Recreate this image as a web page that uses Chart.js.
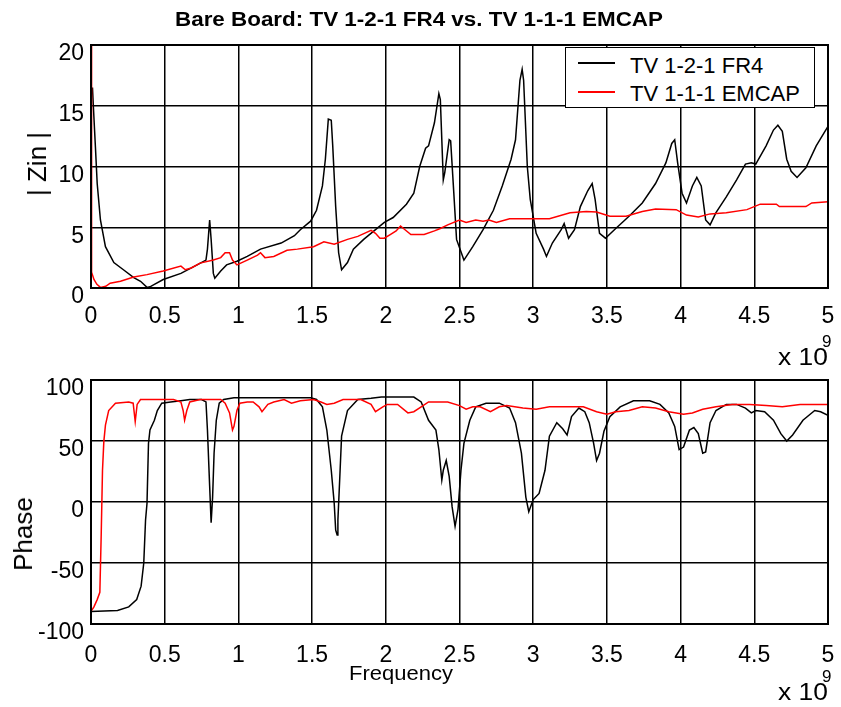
<!DOCTYPE html>
<html><head><meta charset="utf-8">
<script src="https://cdn.jsdelivr.net/npm/chart.js@4.4.1/dist/chart.umd.min.js"></script>
<style>
html,body{margin:0;padding:0;background:#fff;}
#page{position:relative;width:841px;height:707px;overflow:hidden;font-family:"Liberation Sans",Arial,sans-serif;color:#000;}
.t{position:absolute;line-height:1;white-space:nowrap;z-index:3;}
canvas{position:absolute;left:0;}
#legend{position:absolute;left:565px;top:47px;width:250px;height:61px;box-sizing:border-box;border:1px solid #000;background:#fff;z-index:2;}
.ls{position:absolute;left:578px;width:37px;height:1.5px;z-index:3;}
</style></head><body>
<div id="page">
<canvas id="c1" width="841" height="370" style="top:0px"></canvas>
<canvas id="c2" width="841" height="337" style="top:370px"></canvas>

<div class="t" style="left:419px;top:9px;font-size:20px;font-weight:bold;transform:translateX(-50%) scaleX(1.12);">Bare Board: TV 1-2-1 FR4 vs. TV 1-1-1 EMCAP</div>

<div id="legend"></div>
<div class="ls" style="top:62px;background:#000;"></div>
<div class="ls" style="top:91px;background:#ff0000;"></div>
<div class="t" style="left:630px;top:54.7px;font-size:22px;">TV 1-2-1 FR4</div>
<div class="t" style="left:630px;top:83.1px;font-size:22px;">TV 1-1-1 EMCAP</div>

<div class="t" style="left:37px;top:164px;font-size:26px;transform:translate(-50%,-50%) rotate(-90deg);">| Zin |</div>
<div class="t" style="left:23px;top:534px;font-size:26px;transform:translate(-50%,-50%) rotate(-90deg);">Phase</div>

<div class="t" style="left:401px;top:663px;font-size:20px;transform:translateX(-50%) scaleX(1.1);">Frequency</div>

<div class="t" style="left:778px;top:344.7px;font-size:24px;transform-origin:0 0;transform:scaleX(1.1);">x 10</div>
<div class="t" style="left:822px;top:332.6px;font-size:17px;">9</div>
<div class="t" style="left:778px;top:679.7px;font-size:24px;transform-origin:0 0;transform:scaleX(1.1);">x 10</div>
<div class="t" style="left:822px;top:667.6px;font-size:17px;">9</div>
</div>

<script>
// ---- data (frequency in units of 1e9 Hz) ----
const freqTicks = [0, 0.5, 1, 1.5, 2, 2.5, 3, 3.5, 4, 4.5, 5];
const zinTicks = [0, 5, 10, 15, 20];
const phaseTicks = [-100, -50, 0, 50, 100];

const fr4MagFreq = [0.01,0.015,0.03,0.042,0.064,0.098,0.155,0.22,0.29,0.336,0.38,0.40,0.43,0.49,0.61,0.72,0.78,0.79,0.805,0.815,0.83,0.84,0.88,0.92,0.99,1.06,1.15,1.29,1.38,1.42,1.49,1.53,1.57,1.59,1.61,1.63,1.64,1.66,1.68,1.70,1.74,1.78,1.85,1.92,1.99,2.05,2.14,2.19,2.23,2.27,2.29,2.33,2.36,2.37,2.39,2.40,2.43,2.44,2.46,2.48,2.53,2.59,2.66,2.73,2.79,2.85,2.88,2.91,2.925,2.935,2.96,2.98,3.02,3.07,3.09,3.13,3.19,3.21,3.24,3.28,3.32,3.37,3.40,3.42,3.45,3.49,3.56,3.65,3.74,3.83,3.90,3.94,3.96,3.98,4.01,4.04,4.08,4.11,4.14,4.17,4.20,4.24,4.31,4.38,4.44,4.48,4.51,4.58,4.63,4.66,4.69,4.72,4.75,4.79,4.85,4.92,5.0];
const fr4Mag = [16.5,15.2,11.6,8.6,5.6,3.4,2.1,1.5,0.85,0.55,0.05,0.1,0.3,0.7,1.2,1.9,2.3,3.2,5.6,4.0,1.2,0.8,1.4,1.9,2.2,2.6,3.2,3.7,4.3,4.8,5.5,6.4,8.4,10.6,13.9,13.8,11.7,6.7,2.9,1.5,2.1,3.2,4.0,4.7,5.4,5.8,6.9,7.8,10.0,11.5,11.7,13.6,16.0,15.5,8.9,9.5,12.2,12.1,8.1,4.0,2.3,3.4,4.8,6.4,8.4,10.6,12.2,17.1,18.0,17.1,10.0,7.3,4.5,3.2,2.6,3.7,4.8,5.3,4.1,4.8,6.7,8.0,8.6,7.3,4.5,4.1,4.9,5.9,7.0,8.6,10.3,11.9,12.2,10.3,7.8,7.0,8.4,9.1,8.4,5.6,5.2,6.2,7.5,8.9,10.2,10.3,10.2,11.7,13.0,13.4,12.9,10.6,9.6,9.1,9.9,11.7,13.3];

const emcapMagFreq = [0,0.003,0.005,0.02,0.04,0.064,0.1,0.13,0.2,0.29,0.38,0.49,0.61,0.64,0.68,0.74,0.83,0.88,0.91,0.94,0.96,0.99,1.06,1.13,1.15,1.18,1.24,1.33,1.40,1.51,1.58,1.65,1.74,1.81,1.90,1.93,1.96,1.99,2.03,2.07,2.10,2.12,2.17,2.26,2.33,2.37,2.42,2.50,2.545,2.61,2.66,2.70,2.75,2.84,2.97,3.11,3.25,3.36,3.43,3.52,3.63,3.74,3.83,3.97,4.04,4.12,4.20,4.31,4.45,4.54,4.65,4.67,4.85,4.89,5.0];
const emcapMag = [20.5,5,1.3,0.7,0.3,0.05,0.14,0.4,0.55,0.9,1.1,1.4,1.8,1.5,1.65,2.05,2.3,2.5,2.9,2.9,2.3,1.9,2.3,2.7,2.9,2.5,2.6,3.1,3.2,3.4,3.8,3.6,4.0,4.25,4.75,4.5,4.1,4.1,4.4,4.7,5.1,4.9,4.4,4.4,4.7,4.9,5.2,5.6,5.4,5.6,5.5,5.6,5.4,5.7,5.7,5.7,6.2,6.3,6.25,5.9,5.9,6.3,6.5,6.45,6.0,5.85,6.1,6.2,6.45,6.9,6.9,6.7,6.7,7.0,7.1];

const fr4PhaseFreq = [0,0.18,0.256,0.31,0.34,0.358,0.37,0.38,0.39,0.40,0.43,0.45,0.48,0.54,0.61,0.67,0.75,0.78,0.79,0.805,0.815,0.825,0.835,0.85,0.87,0.90,0.97,1.17,1.49,1.53,1.57,1.60,1.63,1.65,1.66,1.67,1.675,1.69,1.70,1.74,1.81,1.90,1.97,2.19,2.24,2.29,2.34,2.36,2.38,2.39,2.41,2.43,2.45,2.47,2.49,2.51,2.53,2.57,2.61,2.68,2.77,2.84,2.88,2.92,2.95,2.97,3.0,3.04,3.08,3.11,3.16,3.20,3.23,3.26,3.31,3.35,3.38,3.41,3.43,3.45,3.48,3.52,3.59,3.68,3.79,3.86,3.92,3.96,3.99,4.02,4.06,4.09,4.12,4.15,4.17,4.20,4.24,4.31,4.38,4.44,4.48,4.51,4.57,4.63,4.68,4.72,4.76,4.83,4.91,4.95,5.0];
const fr4Phase = [-89.7,-89,-86,-80,-69,-50,-15,-1,48,59,67,75,81,82,83,84,84,82,59,13,-17,4,40,67,81,84,85.5,85.5,85.5,84,78,59,26,-1,-23,-27,-15,26,54,75,84,85,86,86,82,67,59,43,18,26,34,21,-4,-20,-6,26,48,67,78,81,81,77,65,40,4,-8,2,7,26,54,65,60,55,70,77,74,65,48,34,40,58,70,78,83,83,80,73,62,43,45,59,61,56,40,41,65,75,80,80,77,73,75,74,67,56,50,55,67,75,74,71];

const emcapPhaseFreq = [0,0.02,0.042,0.06,0.069,0.078,0.087,0.098,0.12,0.166,0.256,0.286,0.30,0.313,0.336,0.56,0.61,0.625,0.635,0.65,0.67,0.74,0.88,0.91,0.94,0.96,0.97,0.99,1.01,1.06,1.10,1.14,1.16,1.20,1.24,1.31,1.36,1.42,1.51,1.56,1.60,1.65,1.71,1.83,1.90,1.93,1.98,2.01,2.08,2.15,2.19,2.24,2.29,2.42,2.50,2.545,2.59,2.64,2.71,2.77,2.82,2.93,3.02,3.11,3.22,3.34,3.43,3.50,3.56,3.65,3.74,3.83,3.92,4.02,4.08,4.15,4.24,4.35,4.47,4.58,4.69,4.81,5.0];
const emcapPhase = [-89.7,-86,-80,-74,-28,26,49.5,63,75,81,82,81,66,80,84,84,82,75,67,75,82,84,84,81,73,59,62,75,81,82,82,78,74,80,82,84,81,83,84,82,80,81,84,84,80,74,78,80,80,73,74,78,82,82,79,76,78,78,74,78,79,77,76,78,78,78,74,72,74,75,78,77,74,72,73,76,78,80,80,79,78,80,80];

const FONT = {family: '"Liberation Sans", Arial, sans-serif', size: 23};

function pts(xs, ys) { return xs.map((x, i) => ({x: x, y: ys[i]})); }

const framePlugin = {
  id: 'frame',
  afterDatasetsDraw(chart) {
    const {ctx, chartArea: a} = chart;
    ctx.save();
    ctx.strokeStyle = '#000';
    ctx.lineWidth = 2;
    ctx.strokeRect(a.left, a.top, a.right - a.left, a.bottom - a.top);
    ctx.restore();
  }
};

function makeChart(id, redData, blackData, yTicks, padTop, xAxisH, xPad) {
  return new Chart(document.getElementById(id), {
    type: 'line',
    data: {
      datasets: [
        {label: 'TV 1-1-1 EMCAP', data: redData, borderColor: '#ff0000', borderWidth: 1.5, pointRadius: 0, tension: 0, fill: false},
        {label: 'TV 1-2-1 FR4', data: blackData, borderColor: '#000000', borderWidth: 1.5, pointRadius: 0, tension: 0, fill: false}
      ]
    },
    options: {
      responsive: false,
      animation: false,
      devicePixelRatio: 1,
      layout: {padding: {left: 0, top: padTop, right: 13, bottom: 0}},
      plugins: {legend: {display: false}, tooltip: {enabled: false}, title: {display: false}},
      scales: {
        x: {
          type: 'linear',
          min: freqTicks[0], max: freqTicks[freqTicks.length - 1],
          afterBuildTicks: s => { s.ticks = freqTicks.map(v => ({value: v})); },
          afterFit: s => { s.height = xAxisH; s.paddingLeft = 0; s.paddingRight = 0; },
          grid: {color: '#000', lineWidth: 1.5, drawTicks: false},
          border: {display: false},
          ticks: {color: '#000', font: FONT, padding: xPad, maxRotation: 0, autoSkip: false,
                  callback: v => String(v)}
        },
        y: {
          type: 'linear',
          min: yTicks[0], max: yTicks[yTicks.length - 1],
          afterBuildTicks: s => { s.ticks = yTicks.map(v => ({value: v})); },
          afterFit: s => { s.width = 91; s.paddingTop = 0; s.paddingBottom = 0; },
          grid: {color: '#000', lineWidth: 1.5, drawTicks: false},
          border: {display: false},
          ticks: {color: '#000', font: FONT, padding: 7, labelOffset: 9, autoSkip: false,
                  callback: v => String(v)}
        }
      }
    },
    plugins: [framePlugin]
  });
}

makeChart('c1', pts(emcapMagFreq, emcapMag), pts(fr4MagFreq, fr4Mag), zinTicks, 45, 82, 15);
makeChart('c2', pts(emcapPhaseFreq, emcapPhase), pts(fr4PhaseFreq, fr4Phase), phaseTicks, 10, 83, 18);
</script>
</body></html>
